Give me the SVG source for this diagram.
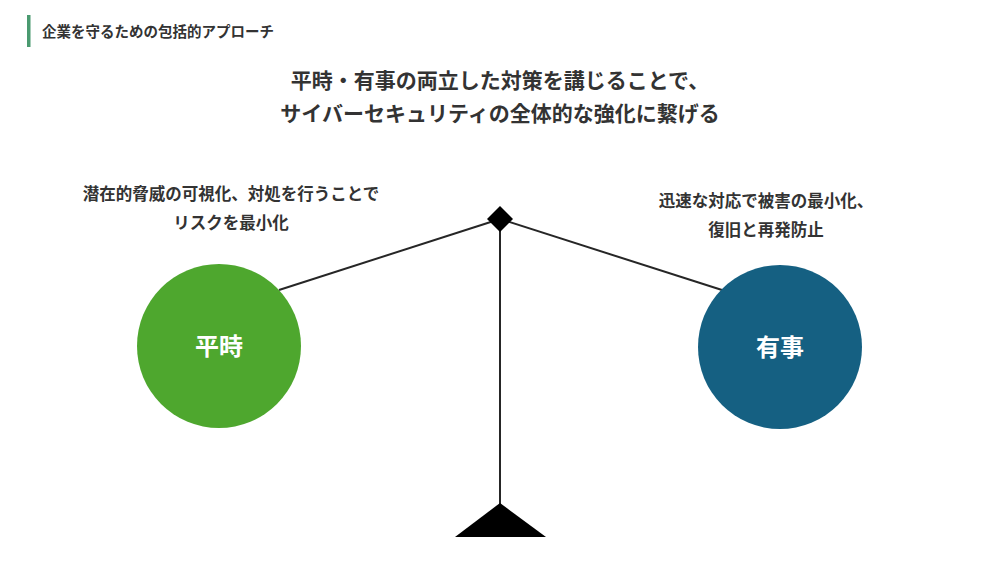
<svg xmlns="http://www.w3.org/2000/svg" width="1000" height="563" viewBox="0 0 1000 563">
<style>
text{font-family:"Noto Sans CJK JP","Noto Sans",sans-serif;font-weight:bold;fill:#333}
.ttl{font-size:21px}
.cap{font-size:16.5px}
.nd{font-size:24px;fill:#fff}
.ln{stroke:#262626;stroke-width:2;fill:none}
</style>
<rect width="1000" height="563" fill="#fff"/>
<rect x="27" y="15" width="3.5" height="32" fill="#4a9a70"/>
<text x="42" y="37" font-size="14.5">企業を守るための包括的アプローチ</text>
<text class="ttl" x="500" y="88" text-anchor="middle">平時・有事の両立した対策を講じることで、</text>
<text class="ttl" x="500" y="121" text-anchor="middle">サイバーセキュリティの全体的な強化に繋げる</text>
<text class="cap" x="231" y="200" text-anchor="middle">潜在的脅威の可視化、対処を行うことで</text>
<text class="cap" x="231" y="229" text-anchor="middle">リスクを最小化</text>
<text class="cap" x="766" y="207" text-anchor="middle">迅速な対応で被害の最小化、</text>
<text class="cap" x="766" y="236" text-anchor="middle">復旧と再発防止</text>
<g id="connectors">
<line class="ln" x1="500" y1="219" x2="279" y2="290"/>
<line class="ln" x1="500" y1="219" x2="722" y2="290"/>
<line class="ln" x1="500" y1="219" x2="500" y2="505"/>
</g>
<g id="pivot"><polygon points="500,206 513,219 500,232 487,219" fill="#000"/></g>
<g id="base"><polygon points="500,503 546,537 455,537" fill="#000"/></g>
<g id="heiji"><circle cx="219" cy="346" r="82" fill="#4ea72e"/><text class="nd" x="219" y="355" text-anchor="middle">平時</text></g>
<g id="yuji"><circle cx="780" cy="347" r="82" fill="#156082"/><text class="nd" x="780" y="356" text-anchor="middle">有事</text></g>
</svg>
